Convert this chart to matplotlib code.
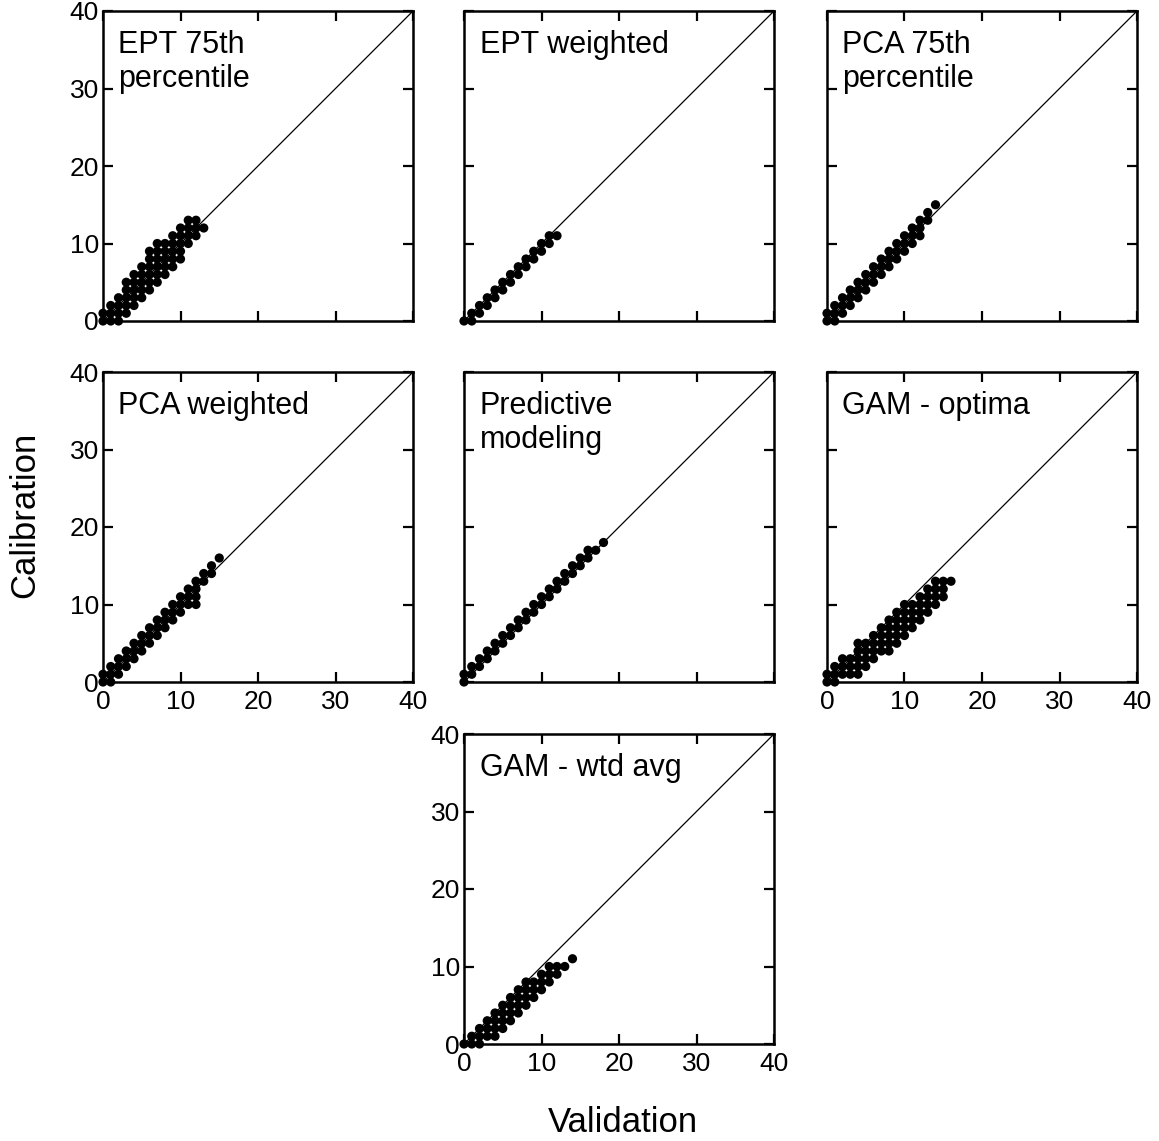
import matplotlib
matplotlib.use('Agg')
import matplotlib.pyplot as plt
import numpy as np

plt.rcParams['font.family'] = ['Liberation Sans', 'DejaVu Sans']

# panel titles
titles = ['EPT 75th\npercentile', 'EPT weighted', 'PCA 75th\npercentile',
          'PCA weighted', 'Predictive\nmodeling', 'GAM - optima',
          'GAM - wtd avg']

ept75 = {0: [0, 1], 1: [0, 1, 2], 2: [0, 1, 2, 3], 3: [1, 2, 3, 4, 5],
         4: [2, 3, 4, 5, 6], 5: [3, 4, 5, 6, 7], 6: [4, 5, 6, 7, 8, 9],
         7: [5, 6, 7, 8, 9, 10], 8: [6, 7, 8, 9, 10], 9: [7, 8, 9, 10, 11],
         10: [8, 9, 10, 11, 12], 11: [10, 11, 12, 13], 12: [11, 12, 13],
         13: [12]}
ept_wtd = {0: [0], 1: [0, 1], 2: [1, 2], 3: [2, 3], 4: [3, 4], 5: [4, 5],
           6: [5, 6], 7: [6, 7], 8: [7, 8], 9: [8, 9], 10: [9, 10],
           11: [10, 11], 12: [11]}
pca75 = {0: [0, 1], 1: [0, 1, 2], 2: [1, 2, 3], 3: [2, 3, 4], 4: [3, 4, 5],
         5: [4, 5, 6], 6: [5, 6, 7], 7: [6, 7, 8], 8: [7, 8, 9],
         9: [8, 9, 10], 10: [9, 10, 11], 11: [10, 11, 12],
         12: [11, 12, 13], 13: [13, 14], 14: [15]}
pca_wtd = {0: [0, 1], 1: [0, 1, 2], 2: [1, 2, 3], 3: [2, 3, 4], 4: [3, 4, 5],
           5: [4, 5, 6], 6: [5, 6, 7], 7: [6, 7, 8], 8: [7, 8, 9],
           9: [8, 9, 10], 10: [9, 10, 11], 11: [10, 11, 12],
           12: [10, 11, 12, 13], 13: [13, 14], 14: [14, 15], 15: [16]}
predictive = {0: [0, 1], 1: [1, 2], 2: [2, 3], 3: [3, 4], 4: [4, 5],
              5: [5, 6], 6: [6, 7], 7: [7, 8], 8: [8, 9], 9: [9, 10],
              10: [10, 11], 11: [11, 12], 12: [12, 13], 13: [13, 14],
              14: [14, 15], 15: [15, 16], 16: [16, 17], 17: [17], 18: [18]}
gam_opt = {0: [0, 1], 1: [0, 1, 2], 2: [1, 2, 3], 3: [1, 2, 3],
           4: [1, 2, 3, 4, 5], 5: [2, 3, 4, 5], 6: [3, 4, 5, 6],
           7: [4, 5, 6, 7], 8: [4, 5, 6, 7, 8], 9: [5, 6, 7, 8, 9],
           10: [6, 7, 8, 9, 10], 11: [7, 8, 9, 10], 12: [8, 9, 10, 11],
           13: [9, 10, 11, 12], 14: [10, 11, 12, 13], 15: [11, 12, 13],
           16: [13]}
gam_wtd = {0: [0], 1: [0, 1], 2: [0, 1, 2], 3: [1, 2, 3], 4: [1, 2, 3, 4],
           5: [2, 3, 4, 5], 6: [3, 4, 5, 6], 7: [4, 5, 6, 7],
           8: [5, 6, 7, 8], 9: [6, 7, 8], 10: [7, 8, 9], 11: [8, 9, 10],
           12: [9, 10], 13: [10], 14: [11]}

panels = [ept75, ept_wtd, pca75, pca_wtd, predictive, gam_opt, gam_wtd]

ticks = [0, 10, 20, 30, 40]

W, H = 1159, 1141
# panel boxes in pixels: left, top
boxes = [(103, 11), (464, 11), (827, 11),
         (103, 372), (464, 372), (827, 372),
         (464, 734)]
show_y = [True, False, False, True, False, False, True]
show_x = [False, False, False, True, False, True, True]
size = 310

fig = plt.figure(figsize=(W / 100, H / 100), dpi=100)

for i, (d, title) in enumerate(zip(panels, titles)):
    l, t = boxes[i]
    ax = fig.add_axes([l / W, 1 - (t + size) / H, size / W, size / H])
    xs = []
    ys = []
    for k, v in d.items():
        for c in v:
            xs.append(k)
            ys.append(c)
    ax.plot([0, 40], [0, 40], color='black', lw=0.9, zorder=1)
    ax.scatter(xs, ys, s=44, color='black', edgecolors='none',
               clip_on=False, zorder=3)
    ax.set_xlim(0, 40)
    ax.set_ylim(0, 40)
    ax.set_xticks(ticks)
    ax.set_yticks(ticks)
    ax.tick_params(direction='in', length=7, width=1.6, top=True,
                   right=True, labelsize=19)
    ax.tick_params(axis='x', pad=6)
    ax.tick_params(axis='y', pad=3)
    if not show_x[i]:
        ax.set_xticklabels([])
    if not show_y[i]:
        ax.set_yticklabels([])
    for sp in ax.spines.values():
        sp.set_linewidth(1.8)
    ax.text(0.05, 0.94, title, transform=ax.transAxes, fontsize=22,
            va='top', ha='left', linespacing=1.2)

fig.text(25 / W, 1 - 515 / H, 'Calibration', rotation=90, fontsize=25,
         ha='center', va='center')
fig.text(623 / W, 1 - 1122 / H, 'Validation', fontsize=25,
         ha='center', va='center')

plt.savefig('out.png', dpi=100)
